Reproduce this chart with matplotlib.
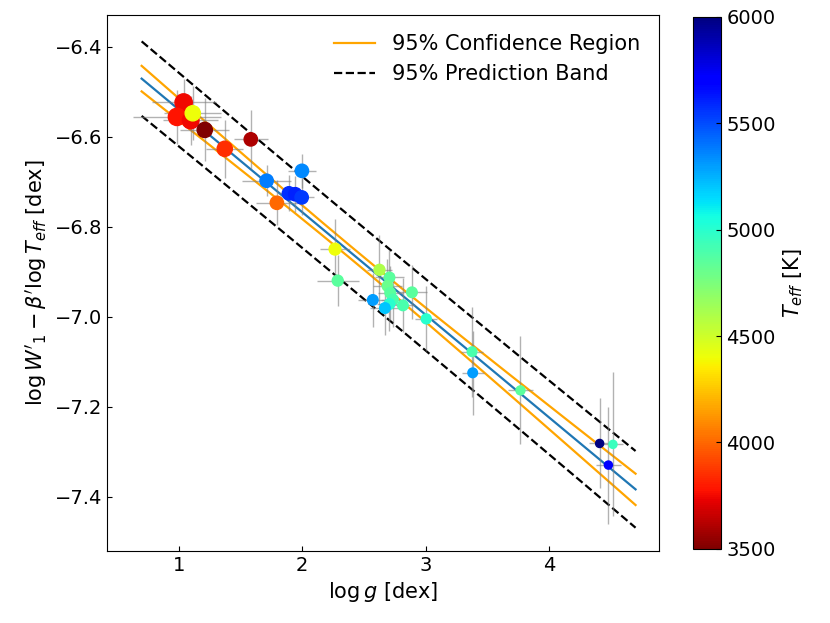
import matplotlib.pyplot as plt
import numpy as np

# log g, log W1' - beta' log Teff, errores y Teff
logg = [1.040, 0.986, 1.097, 1.114, 1.211, 1.373, 1.584, 1.998, 1.712, 1.893,
        1.944, 1.996, 1.795, 2.266, 2.288, 2.626, 2.707, 2.691, 2.713, 2.735,
        2.707, 2.670, 2.572, 2.816, 2.889, 3.005, 3.376, 3.381, 3.768, 4.409,
        4.517, 4.480]
yval = [-6.524, -6.556, -6.564, -6.548, -6.585, -6.627, -6.606, -6.676, -6.698, -6.726,
        -6.728, -6.735, -6.747, -6.850, -6.920, -6.896, -6.913, -6.932, -6.947, -6.962,
        -6.972, -6.981, -6.963, -6.975, -6.946, -7.005, -7.078, -7.125, -7.164, -7.282,
        -7.284, -7.330]
xerr = [0.26, 0.36, 0.22, 0.23, 0.20, 0.15, 0.14, 0.11, 0.20, 0.08,
        0.08, 0.10, 0.17, 0.12, 0.17, 0.10, 0.12, 0.12, 0.10, 0.10,
        0.10, 0.12, 0.12, 0.10, 0.12, 0.09, 0.09, 0.09, 0.10, 0.09,
        0.08, 0.10]
yerr = [0.053, 0.060, 0.055, 0.060, 0.070, 0.065, 0.065, 0.038, 0.035, 0.040,
        0.040, 0.040, 0.050, 0.067, 0.056, 0.078, 0.060, 0.060, 0.060, 0.060,
        0.060, 0.060, 0.060, 0.060, 0.060, 0.072, 0.100, 0.093, 0.120, 0.100,
        0.160, 0.130]
teff = [3750, 3780, 3750, 4400, 3500, 3850, 3600, 5350, 5375, 5580,
        5600, 5550, 4000, 4400, 4850, 4600, 4850, 4800, 4850, 4900,
        5000, 5200, 5300, 4900, 4850, 5000, 4900, 5300, 4850, 6000,
        4950, 5700]
tamano = [155, 155, 145, 120, 120, 120, 92, 92, 92, 92,
          92, 92, 92, 72, 62, 62, 58, 58, 58, 58,
          58, 58, 58, 58, 58, 52, 48, 48, 42, 34,
          34, 34]

x = np.array(logg)
y = np.array(yval)
n = len(x)

# Ajuste lineal y bandas del 95%
pend, inter = np.polyfit(x, y, 1)
resid = y - (inter + pend * x)
s = np.sqrt(np.sum(resid**2) / (n - 2))
t = 2.042
xm = x.mean()
sxx = np.sum((x - xm)**2)
xs = np.linspace(0.7, 4.7, 200)
ys = inter + pend * xs
conf = t * s * np.sqrt(1/n + (xs - xm)**2 / sxx)
pred = t * s * np.sqrt(1 + 1/n + (xs - xm)**2 / sxx)

plt.rcParams['font.size'] = 15
fig = plt.figure(figsize=(8.3, 6.23), dpi=100)
ax = fig.add_axes([0.129, 0.1156, 0.665, 0.860])
cax = fig.add_axes([0.835, 0.119, 0.034, 0.854])

ax.plot(xs, ys, color='tab:blue', linewidth=1.6, zorder=1)
ax.plot(xs, ys + conf, color='orange', linewidth=1.6, label='95% Confidence Region', zorder=1)
ax.plot(xs, ys - conf, color='orange', linewidth=1.6, zorder=1)
ax.plot(xs, ys + pred, 'k--', linewidth=1.6, label='95% Prediction Band', zorder=1)
ax.plot(xs, ys - pred, 'k--', linewidth=1.6, zorder=1)

ax.errorbar(x, y, xerr=xerr, yerr=yerr, fmt='none', ecolor='gray', elinewidth=1, alpha=0.6, zorder=2)
sc = ax.scatter(x, y, c=teff, s=tamano, cmap='jet_r', vmin=3500, vmax=6000, zorder=3)

ax.set_xlim(0.42, 4.89)
ax.set_ylim(-7.521, -6.330)
ax.set_xticks([1, 2, 3, 4])
ax.set_yticks([-6.4, -6.6, -6.8, -7.0, -7.2, -7.4])
ax.tick_params(direction='in', labelsize=14)
ax.set_xlabel(r'$\log g$ [dex]')
ax.set_ylabel(r"$\log W'_1 - \beta' \log T_{eff}$ [dex]")
ax.legend(loc='upper right', frameon=False, fontsize=15)

cb = fig.colorbar(sc, cax=cax)
cb.set_ticks([3500, 4000, 4500, 5000, 5500, 6000])
cb.ax.tick_params(direction='in', labelsize=14)
cb.set_label(r'$T_{eff}$ [K]')

fig.savefig('out.png', dpi=100)
